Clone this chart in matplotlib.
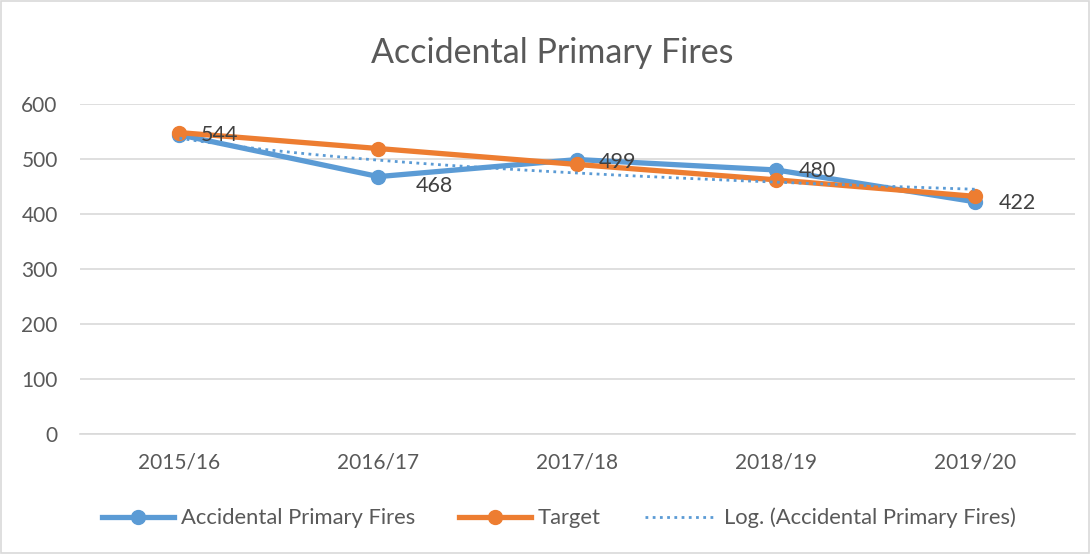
import matplotlib
matplotlib.use("Agg")
import matplotlib.pyplot as plt
import numpy as np
from matplotlib.patches import Rectangle

plt.rcParams["font.family"] = ["Lato", "DejaVu Sans"]

years = ["2015/16", "2016/17", "2017/18", "2018/19", "2019/20"]
fires = [544, 468, 499, 480, 422]
target = [548, 519, 490, 462, 432]
label_offsets = [(15, 0), (27, -7), (15, -1.5), (16, -1), (17, -1)]

BLUE = "#5b9bd5"
ORANGE = "#ed7d31"
TEXT = "#595959"

fig = plt.figure(figsize=(10.91, 5.54), dpi=100)
ax = fig.add_axes([0.0733, 0.2166, 0.912, 0.5957])

x = np.arange(len(years))

# logarithmic trendline fitted to the fires series, like Excel's "Log." trend
b, a = np.polyfit(np.log(x + 1), fires, 1)
xs = np.linspace(0, len(years) - 1, 200)
trend = a + b * np.log(xs + 1)

ax.plot(x, fires, color=BLUE, linewidth=3.8, marker="o", markersize=10,
        label="Accidental Primary Fires", zorder=3)
ax.plot(x, target, color=ORANGE, linewidth=3.8, marker="o", markersize=10,
        label="Target", zorder=4)
ax.plot(xs, trend, color=BLUE, linewidth=2, linestyle=(0, (1, 1.6)),
        label="Log. (Accidental Primary Fires)", zorder=5)

for xi, v, off in zip(x, fires, label_offsets):
    ax.annotate(str(v), (xi, v), xytext=off, textcoords="offset points",
                ha="left", va="center", fontsize=15.5, color="#404040", zorder=6)

ax.set_xlim(-0.5, len(years) - 0.5)
ax.set_ylim(0, 600)
ax.set_yticks(range(0, 601, 100))
ax.set_xticks(x)
ax.set_xticklabels(years)
ax.tick_params(axis="both", length=0, labelsize=15, colors=TEXT)
ax.tick_params(axis="x", pad=13)
ax.tick_params(axis="y", pad=16)
ax.grid(axis="y", color="#d9d9d9", linewidth=1.2)
ax.set_axisbelow(True)
for side in ["top", "right", "left"]:
    ax.spines[side].set_visible(False)
ax.spines["bottom"].set_color("#d9d9d9")
ax.spines["bottom"].set_linewidth(1.2)

fig.text(0.506, 0.905, "Accidental Primary Fires", ha="center", va="center",
         fontsize=24.5, color=TEXT)

leg = fig.legend(loc="center", bbox_to_anchor=(0.512, 0.065), ncol=3,
                 frameon=False, fontsize=15.8, handlelength=3.3,
                 columnspacing=2.0, handletextpad=0.3)
for t in leg.get_texts():
    t.set_color(TEXT)

fig.patches.append(Rectangle((0.001, 0.001), 0.997, 0.997, transform=fig.transFigure,
                             fill=False, edgecolor="#d9d9d9", linewidth=1.2))

fig.savefig("out.png", dpi=100)
